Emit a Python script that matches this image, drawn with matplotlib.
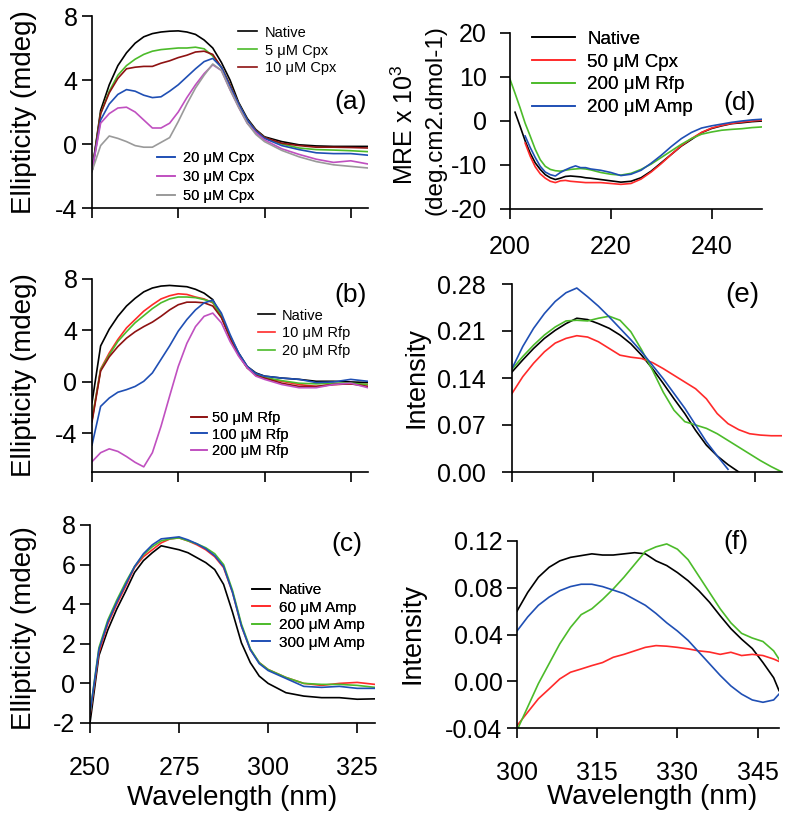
import numpy as np
import matplotlib
matplotlib.use('Agg')
import matplotlib.pyplot as plt

plt.rcParams['font.family'] = ['Liberation Sans', 'DejaVu Sans']
plt.rcParams['axes.unicode_minus'] = False
plt.rcParams['mathtext.default'] = 'regular'

# ---------------- data ----------------
wl_abc = [250, 252.5, 255, 257.5, 260, 262.5, 265, 267.5, 270, 272.5, 275, 277.5, 280,
          282.5, 285, 287.5, 290, 292.5, 295, 297.5, 300, 305, 310, 315, 320, 325, 330]

# panel (a) Cpx
a_native = [-1.7, 2.1, 3.7, 4.9, 5.7, 6.3, 6.7, 6.9, 7.0, 7.05, 7.07, 7.0, 6.85, 6.5, 6.0, 5.1, 4.0,
            2.6, 1.6, 0.9, 0.45, 0.15, -0.05, -0.12, -0.15, -0.15, -0.15]
a_cpx5 = [-1.7, 1.9, 3.3, 4.3, 4.9, 5.3, 5.6, 5.8, 5.9, 5.95, 6.0, 6.0, 6.05, 5.95, 5.5, 4.8, 3.7,
          2.5, 1.5, 0.85, 0.4, 0.0, -0.25, -0.35, -0.38, -0.42, -0.48]
a_cpx10 = [-1.7, 1.9, 3.2, 4.1, 4.7, 4.8, 4.85, 4.85, 5.05, 5.2, 5.4, 5.55, 5.75, 5.8, 5.6, 4.8, 3.7,
           2.5, 1.5, 0.85, 0.4, 0.05, -0.1, -0.2, -0.2, -0.22, -0.25]
a_cpx20 = [-1.7, 1.5, 2.5, 3.1, 3.4, 3.3, 3.05, 2.9, 2.95, 3.3, 3.7, 4.2, 4.7, 5.15, 5.35, 4.8, 3.6,
           2.5, 1.5, 0.8, 0.35, -0.1, -0.35, -0.55, -0.6, -0.6, -0.7]
a_cpx30 = [-1.7, 1.3, 1.9, 2.25, 2.3, 2.0, 1.5, 1.0, 1.0, 1.3, 2.0, 2.9, 3.7, 4.4, 4.95, 4.6, 3.4,
           2.3, 1.3, 0.7, 0.25, -0.3, -0.65, -0.95, -1.15, -1.05, -1.25]
a_cpx50 = [-1.7, -0.1, 0.5, 0.35, 0.15, -0.1, -0.2, -0.2, 0.1, 0.4, 1.4, 2.5, 3.5, 4.3, 5.0, 4.6, 3.4,
           2.3, 1.3, 0.6, 0.15, -0.4, -0.8, -1.1, -1.3, -1.4, -1.5]

# panel (b) Rfp
b_native = [-1.6, 2.8, 4.1, 5.1, 5.9, 6.5, 7.0, 7.3, 7.45, 7.5, 7.45, 7.4, 7.2, 6.9, 6.4, 5.1, 3.55,
            2.25, 1.2, 0.7, 0.45, 0.3, 0.2, 0.05, 0.05, 0.0, -0.05]
b_rfp10 = [-3.0, 1.0, 2.25, 3.3, 4.2, 4.85, 5.5, 6.0, 6.45, 6.7, 6.85, 6.8, 6.6, 6.45, 6.15, 5.1, 3.55,
           2.1, 1.1, 0.6, 0.3, 0.05, -0.2, -0.35, -0.2, -0.15, -0.2]
b_rfp20 = [-2.9, 0.95, 2.1, 3.15, 3.9, 4.6, 5.15, 5.7, 6.15, 6.45, 6.6, 6.6, 6.55, 6.4, 6.2, 5.1, 3.5,
           2.1, 1.1, 0.6, 0.35, 0.1, -0.1, -0.15, -0.1, -0.1, -0.2]
b_rfp50 = [-3.1, 0.85, 1.95, 2.75, 3.4, 3.9, 4.3, 4.65, 5.1, 5.6, 6.0, 6.2, 6.2, 6.15, 5.9, 5.0, 3.4,
           2.1, 1.1, 0.5, 0.3, -0.1, -0.35, -0.35, -0.2, -0.15, -0.35]
b_rfp100 = [-4.9, -1.9, -1.25, -0.8, -0.6, -0.35, 0.05, 0.7, 1.75, 2.8, 3.95, 4.85, 5.6, 6.15, 6.35,
            5.35, 3.7, 2.25, 1.2, 0.65, 0.45, 0.3, 0.2, -0.05, 0.0, 0.2, 0.05]
b_rfp200 = [-6.2, -5.5, -5.2, -5.4, -5.8, -6.25, -6.6, -5.5, -3.45, -1.1, 1.2, 3.0, 4.3, 5.1, 5.35,
            4.6, 3.15, 2.0, 1.1, 0.45, 0.2, -0.2, -0.45, -0.45, -0.2, -0.1, -0.45]

# panel (c) Amp
c_native = [-2.0, 1.4, 2.7, 3.75, 4.65, 5.6, 6.2, 6.6, 6.95, 6.85, 6.75, 6.6, 6.35, 6.1, 5.75, 5.0,
            3.6, 2.05, 1.05, 0.37, 0.0, -0.47, -0.64, -0.72, -0.72, -0.8, -0.78]
c_amp60 = [-1.6, 1.55, 3.0, 4.0, 4.9, 5.85, 6.4, 6.75, 7.1, 7.3, 7.35, 7.2, 7.0, 6.75, 6.4, 5.85,
           4.6, 2.9, 1.7, 1.05, 0.7, 0.3, 0.0, -0.1, 0.0, 0.05, -0.05]
c_amp200 = [-1.5, 1.8, 3.2, 4.2, 5.1, 5.9, 6.5, 6.9, 7.2, 7.3, 7.35, 7.2, 7.05, 6.85, 6.55, 6.0,
            4.7, 3.0, 1.75, 1.05, 0.7, 0.3, 0.0, -0.05, -0.05, -0.1, -0.2]
c_amp300 = [-1.5, 1.7, 3.1, 4.1, 5.0, 5.9, 6.55, 7.0, 7.3, 7.35, 7.4, 7.25, 7.05, 6.8, 6.45, 5.9,
            4.6, 2.9, 1.7, 1.0, 0.65, 0.25, -0.15, -0.2, -0.15, -0.25, -0.25]

# panel (d) far-UV CD
wl_d = [200, 201, 202, 203, 204, 205, 206, 207, 208, 209, 210, 211, 212, 213, 214, 215, 216, 218,
        220, 222, 224, 226, 228, 230, 232, 234, 236, 238, 240, 242, 244, 246, 248, 250]
nan = np.nan
d_native = [nan, 2.0, -1.2, -4.5, -7.3, -9.5, -11.0, -12.2, -12.9, -13.3, -13.0, -12.6, -12.5, -12.6,
            -12.7, -12.9, -13.0, -13.3, -13.6, -13.9, -13.7, -12.9, -11.4, -9.5, -7.6, -5.7, -4.2,
            -2.65, -1.7, -1.1, -0.6, -0.4, -0.15, 0.0]
d_cpx50 = [nan, nan, nan, -5.0, -8.0, -10.4, -12.0, -13.0, -13.7, -14.0, -13.6, -13.5, -13.7, -13.8,
           -13.9, -14.0, -14.0, -14.0, -14.2, -14.4, -14.2, -13.2, -11.6, -9.7, -7.6, -5.6, -4.0,
           -2.6, -1.6, -1.0, -0.55, -0.25, 0.0, 0.2]
d_rfp200 = [9.5, 6.3, 3.0, -0.5, -3.4, -6.4, -8.8, -10.3, -11.0, -11.3, -11.4, -11.2, -11.0, -10.9,
            -10.8, -10.9, -11.1, -11.7, -12.1, -12.3, -11.9, -11.0, -9.8, -8.3, -6.8, -5.3, -4.0,
            -3.0, -2.5, -2.1, -1.9, -1.75, -1.5, -1.35]
d_amp200 = [nan, nan, nan, -3.4, -6.0, -8.3, -10.3, -11.6, -12.2, -12.5, -11.7, -11.1, -10.6, -10.2,
            -10.6, -10.6, -10.9, -11.2, -11.7, -12.4, -12.1, -11.2, -9.6, -7.8, -5.8, -4.0, -2.6,
            -1.6, -1.1, -0.7, -0.3, 0.0, 0.25, 0.4]

# panel (e) fluorescence
wl_e = [300, 302, 304, 306, 308, 310, 312, 314, 316, 318, 320, 322, 324, 326, 328, 330, 332, 334,
        336, 338, 340, 342, 344, 346, 348, 350]
e_native = [0.149, 0.167, 0.184, 0.199, 0.211, 0.221, 0.229, 0.227, 0.221, 0.214, 0.204, 0.191,
            0.174, 0.154, 0.132, 0.109, 0.087, 0.062, 0.040, 0.024, 0.011, 0.0, nan, nan, nan, nan]
e_cpx = [0.117, 0.142, 0.162, 0.179, 0.192, 0.199, 0.203, 0.201, 0.194, 0.184, 0.174, 0.171, 0.169,
         0.163, 0.154, 0.144, 0.134, 0.124, 0.109, 0.087, 0.072, 0.063, 0.057, 0.055, 0.054, 0.054]
e_rfp = [0.153, 0.172, 0.189, 0.204, 0.216, 0.225, 0.226, 0.225, 0.229, 0.232, 0.226, 0.209, 0.182,
         0.152, 0.119, 0.092, 0.075, 0.070, 0.065, 0.057, 0.047, 0.037, 0.027, 0.017, 0.008, 0.0]
e_amp = [0.154, 0.187, 0.214, 0.236, 0.254, 0.267, 0.274, 0.261, 0.247, 0.231, 0.214, 0.197, 0.179,
         0.159, 0.139, 0.117, 0.095, 0.070, 0.045, 0.024, 0.004, nan, nan, nan, nan, nan]

# panel (f) fluorescence
wl_f = [300, 302, 304, 306, 308, 310, 312, 314, 316, 318, 320, 322, 324, 326, 328, 330, 332, 334,
        336, 338, 340, 342, 344, 346, 348, 349]
f_native = [0.060, 0.076, 0.089, 0.0975, 0.103, 0.106, 0.1075, 0.109, 0.108, 0.108, 0.109, 0.110,
            0.109, 0.103, 0.099, 0.093, 0.086, 0.0775, 0.0676, 0.056, 0.045, 0.036, 0.028, 0.016,
            0.003, -0.008]
f_cpx = [-0.038, -0.0265, -0.015, -0.0066, 0.002, 0.0077, 0.0105, 0.0134, 0.016, 0.0205, 0.023,
         0.026, 0.029, 0.0305, 0.030, 0.029, 0.0277, 0.026, 0.025, 0.023, 0.0248, 0.022, 0.023,
         0.022, 0.019, 0.017]
f_rfp = [-0.042, -0.022, -0.002, 0.015, 0.032, 0.046, 0.057, 0.062, 0.070, 0.079, 0.089, 0.100,
         0.111, 0.115, 0.1175, 0.113, 0.104, 0.090, 0.076, 0.062, 0.050, 0.041, 0.037, 0.034,
         0.026, 0.019]
f_amp = [0.043, 0.055, 0.065, 0.072, 0.0775, 0.081, 0.083, 0.083, 0.081, 0.078, 0.075, 0.070,
         0.065, 0.058, 0.050, 0.043, 0.035, 0.025, 0.015, 0.005, -0.004, -0.011, -0.016, -0.018,
         -0.016, -0.011]

# ---------------- style ----------------
BLACK = '#000000'
GREEN = '#4CBB2A'
DRED = '#8E1212'
BLUE = '#1F4FB4'
MAG = '#C050C0'
GRAY = '#9A9A9A'
RED = '#FF2A2A'
LW = 1.2
um = '\u03bcM'

W, H = 787, 826
fig = plt.figure(figsize=(W / 100, H / 100), dpi=100)


def mkax(l, t, r, b):
    return fig.add_axes([l / W, 1 - b / H, (r - l) / W, (b - t) / H])


def style(ax, xlim, ylim, xticks, yticks, xlabels=True, ypad=3.5, xpad=16.5, fmt=None):
    for s in ['top', 'right']:
        ax.spines[s].set_visible(False)
    for s in ['left', 'bottom']:
        ax.spines[s].set_linewidth(1.2)
    ax.set_xlim(xlim)
    ax.set_ylim(ylim)
    ax.set_xticks(xticks)
    ax.set_yticks(yticks)
    ax.tick_params(direction='out', length=7, width=1.2, labelsize=18)
    ax.tick_params(axis='y', pad=ypad)
    ax.tick_params(axis='x', pad=xpad)
    if fmt:
        ax.set_yticklabels([fmt % v for v in yticks])
    if not xlabels:
        ax.set_xticklabels([])


def leg(ax, handles, x, y, fs, hl, tp, ls):
    lg = ax.legend(handles=handles, loc='upper left', bbox_to_anchor=(x, y), frameon=False,
                   fontsize=fs, handlelength=hl, handletextpad=tp, labelspacing=ls,
                   borderpad=0, borderaxespad=0)
    ax.add_artist(lg)
    return lg


def panel_label(ax, x, y, s, fs=19):
    ax.text(x, y, s, transform=ax.transAxes, ha='center', va='center', fontsize=fs)


# (a)
axa = mkax(92, 16, 368, 208)
la = [axa.plot(wl_abc, a_native, color=BLACK, lw=LW, label='Native')[0],
      axa.plot(wl_abc, a_cpx5, color=GREEN, lw=LW, label='5 ' + um + ' Cpx')[0],
      axa.plot(wl_abc, a_cpx10, color=DRED, lw=LW, label='10 ' + um + ' Cpx')[0],
      axa.plot(wl_abc, a_cpx20, color=BLUE, lw=LW, label='20 ' + um + ' Cpx')[0],
      axa.plot(wl_abc, a_cpx30, color=MAG, lw=LW, label='30 ' + um + ' Cpx')[0],
      axa.plot(wl_abc, a_cpx50, color=GRAY, lw=LW, label='50 ' + um + ' Cpx')[0]]
style(axa, (250, 330), (-4, 8), [250, 275, 300, 325], [-4, 0, 4, 8], xlabels=False)
leg(axa, la[:3], 0.529, 0.95, 10.5, 1.3, 0.55, 0.27)
leg(axa, la[3:], 0.236, 0.297, 10.5, 1.23, 0.55, 0.34)
panel_label(axa, 0.938, 0.552, '(a)')

# (b)
axb = mkax(92, 279, 368, 472)
lb = [axb.plot(wl_abc, b_native, color=BLACK, lw=LW, label='Native')[0],
      axb.plot(wl_abc, b_rfp10, color=RED, lw=LW, label='10 ' + um + ' Rfp')[0],
      axb.plot(wl_abc, b_rfp20, color=GREEN, lw=LW, label='20 ' + um + ' Rfp')[0],
      axb.plot(wl_abc, b_rfp50, color=DRED, lw=LW, label='50 ' + um + ' Rfp')[0],
      axb.plot(wl_abc, b_rfp100, color=BLUE, lw=LW, label='100 ' + um + ' Rfp')[0],
      axb.plot(wl_abc, b_rfp200, color=MAG, lw=LW, label='200 ' + um + ' Rfp')[0]]
style(axb, (250, 330), (-7, 8), [250, 275, 300, 325], [-4, 0, 4, 8], xlabels=False)
leg(axb, lb[:3], 0.601, 0.847, 10.5, 1.16, 0.48, 0.27)
leg(axb, lb[3:], 0.359, 0.318, 10.5, 1.1, 0.34, 0.2)
panel_label(axb, 0.938, 0.917, '(b)')

# (c)
axc = mkax(90, 525, 375, 723)
lc = [axc.plot(wl_abc, c_native, color=BLACK, lw=LW, label='Native')[0],
      axc.plot(wl_abc, c_amp60, color=RED, lw=LW, label='60 ' + um + ' Amp')[0],
      axc.plot(wl_abc, c_amp200, color=GREEN, lw=LW, label='200 ' + um + ' Amp')[0],
      axc.plot(wl_abc, c_amp300, color=BLUE, lw=LW, label='300 ' + um + ' Amp')[0]]
style(axc, (250, 330), (-2, 8), [250, 275, 300, 325], [-2, 0, 2, 4, 6, 8])
leg(axc, lc, 0.568, 0.707, 11, 1.18, 0.59, 0.23)
panel_label(axc, 0.902, 0.904, '(c)')

# (d)
axd = mkax(510, 33, 762, 209)
ld = [axd.plot(wl_d, d_native, color=BLACK, lw=LW, label='Native')[0],
      axd.plot(wl_d, d_cpx50, color=RED, lw=LW, label='50 ' + um + ' Cpx')[0],
      axd.plot(wl_d, d_rfp200, color=GREEN, lw=LW, label='200 ' + um + ' Rfp')[0],
      axd.plot(wl_d, d_amp200, color=BLUE, lw=LW, label='200 ' + um + ' Amp')[0]]
style(axd, (200, 250), (-20, 20), [200, 220, 240], [-20, -10, 0, 10, 20], ypad=9.5, xpad=11.5)
leg(axd, ld, 0.087, 1.0125, 13.5, 2.3, 0.64, 0.30)
panel_label(axd, 0.909, 0.602, '(d)')

# (e)
axe = mkax(512, 284, 782, 472)
axe.plot(wl_e, e_native, color=BLACK, lw=LW)
axe.plot(wl_e, e_cpx, color=RED, lw=LW)
axe.plot(wl_e, e_rfp, color=GREEN, lw=LW)
axe.plot(wl_e, e_amp, color=BLUE, lw=LW)
style(axe, (300, 350), (0, 0.28), [300, 315, 330, 345], [0, 0.07, 0.14, 0.21, 0.28],
      xlabels=False, ypad=12, fmt='%.2f')
panel_label(axe, 0.852, 0.941, '(e)', fs=20)

# (f)
axf = mkax(517, 541, 779, 728)
axf.plot(wl_f, f_native, color=BLACK, lw=LW)
axf.plot(wl_f, f_cpx, color=RED, lw=LW)
axf.plot(wl_f, f_rfp, color=GREEN, lw=LW)
axf.plot(wl_f, f_amp, color=BLUE, lw=LW)
style(axf, (300, 349), (-0.04, 0.12), [300, 315, 330, 345], [-0.04, 0, 0.04, 0.08, 0.12],
      ypad=3.5, fmt='%.2f')
panel_label(axf, 0.836, 0.995, '(f)')

# axis labels
def ftext(x, y, s, **kw):
    fig.text(x / W, 1 - y / H, s, ha='center', va='center', **kw)

ftext(24, 112, 'Ellipticity (mdeg)', rotation=90, fontsize=20)
ftext(24, 375, 'Ellipticity (mdeg)', rotation=90, fontsize=20)
ftext(24, 628, 'Ellipticity (mdeg)', rotation=90, fontsize=20)
ftext(405, 125, 'MRE x 10$^3$', rotation=90, fontsize=18)
ftext(435, 120, '(deg.cm2.dmol-1)', rotation=90, fontsize=17.5)
ftext(416, 378, 'Intensity', rotation=90, fontsize=19.5)
ftext(412, 634, 'Intensity', rotation=90, fontsize=19.5)
ftext(232, 798, 'Wavelength (nm)', fontsize=20)
ftext(652, 797, 'Wavelength (nm)', fontsize=20)

fig.savefig('out.png', dpi=100)
